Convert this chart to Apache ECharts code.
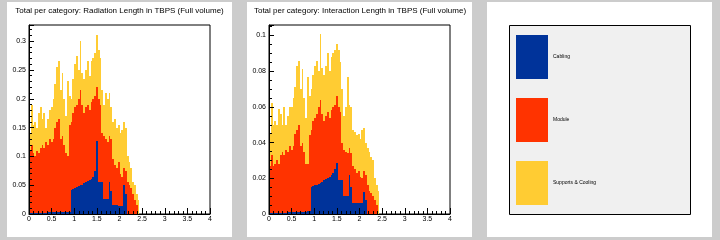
<!DOCTYPE html>
<html>
<head>
<meta charset="utf-8">
<script src="https://cdn.jsdelivr.net/npm/echarts@6/dist/echarts.min.js"></script>
<style>
   html, body { margin: 0; padding: 0; background: #cccccc; }
   #main { width: 720px; height: 240px; }
</style>
</head>
<body>
<div id="main"></div>
<script>

// category names as in the legend
const categories = ["Cabling", "Module", "Supports & Cooling"];
const catColors  = ["#00339a", "#ff3300", "#ffcc33"];

// histogram bins (left edge), width 0.04
const binW = 0.04;
const binStart = [
   0.00, 0.04, 0.08, 0.12, 0.16, 0.20, 0.24, 0.28, 0.32, 0.36,
   0.40, 0.44, 0.48, 0.52, 0.56, 0.60, 0.64, 0.68, 0.72, 0.76,
   0.80, 0.84, 0.88, 0.92, 0.96, 1.00, 1.04, 1.08, 1.12, 1.16,
   1.20, 1.24, 1.28, 1.32, 1.36, 1.40, 1.44, 1.48, 1.52, 1.56,
   1.60, 1.64, 1.68, 1.72, 1.76, 1.80, 1.84, 1.88, 1.92, 1.96,
   2.00, 2.04, 2.08, 2.12, 2.16, 2.20, 2.24, 2.28, 2.32, 2.36,
   2.40
];

// Radiation length: stacked heights (top of each layer)
const radCablingTop = [
   0.001, 0.001, 0.001, 0.001, 0.001, 0.001, 0.001, 0.001, 0.001, 0.001,
   0.003, 0.003, 0.003, 0.003, 0.003, 0.003, 0.003, 0.003, 0.003, 0.003,
   0.003, 0.004, 0.004, 0.042, 0.044, 0.045, 0.046, 0.048, 0.050, 0.051,
   0.053, 0.055, 0.057, 0.059, 0.061, 0.065, 0.075, 0.127, 0.056, 0.056,
   0.055, 0.026, 0.026, 0.026, 0.056, 0.040, 0.016, 0.016, 0.015, 0.014,
   0.014, 0.014, 0.050, 0.035, 0, 0, 0, 0, 0, 0,
   0
];
const radModuleTop = [
   0.110, 0.120, 0.105, 0.100, 0.110, 0.105, 0.115, 0.120, 0.115, 0.125,
   0.120, 0.130, 0.125, 0.130, 0.150, 0.160, 0.165, 0.130, 0.135, 0.120,
   0.105, 0.100, 0.155, 0.160, 0.175, 0.185, 0.190, 0.200, 0.215, 0.190,
   0.175, 0.185, 0.190, 0.180, 0.195, 0.200, 0.205, 0.220, 0.200, 0.190,
   0.140, 0.135, 0.130, 0.125, 0.135, 0.130, 0.095, 0.085, 0.080, 0.090,
   0.070, 0.065, 0.080, 0.075, 0.055, 0.050, 0.045, 0.035, 0.025, 0.015,
   0
];
const radTotalTop = [
   0.140, 0.190, 0.155, 0.160, 0.150, 0.175, 0.185, 0.165, 0.175, 0.150,
   0.165, 0.180, 0.185, 0.200, 0.225, 0.255, 0.265, 0.215, 0.245, 0.200,
   0.170, 0.230, 0.205, 0.200, 0.235, 0.260, 0.275, 0.250, 0.300, 0.245,
   0.235, 0.250, 0.265, 0.240, 0.265, 0.270, 0.280, 0.310, 0.285, 0.270,
   0.215, 0.190, 0.210, 0.200, 0.210, 0.185, 0.160, 0.165, 0.150, 0.155,
   0.140, 0.145, 0.160, 0.150, 0.100, 0.090, 0.080, 0.055, 0.050, 0.035,
   0.025
];

// Interaction length: stacked heights
const intCablingTop = [
   0.0005, 0.0005, 0.0005, 0.0005, 0.0005, 0.0005, 0.0005, 0.0005, 0.0005, 0.0005,
   0.001, 0.001, 0.001, 0.001, 0.001, 0.001, 0.001, 0.001, 0.001, 0.001,
   0.001, 0.0015, 0.0015, 0.015, 0.0155, 0.016, 0.0165, 0.017, 0.0175, 0.018,
   0.019, 0.0195, 0.020, 0.021, 0.022, 0.023, 0.025, 0.0285, 0.019, 0.019,
   0.019, 0.010, 0.010, 0.010, 0.022, 0.015, 0.006, 0.006, 0.006, 0.006,
   0.006, 0.006, 0.0125, 0.008, 0, 0, 0, 0, 0, 0,
   0
];
const intModuleTop = [
   0.027, 0.033, 0.027, 0.028, 0.030, 0.028, 0.033, 0.035, 0.033, 0.036,
   0.035, 0.038, 0.036, 0.038, 0.045, 0.047, 0.050, 0.038, 0.040, 0.035,
   0.028, 0.028, 0.044, 0.047, 0.052, 0.054, 0.056, 0.060, 0.064, 0.056,
   0.052, 0.055, 0.057, 0.054, 0.058, 0.060, 0.061, 0.066, 0.060, 0.057,
   0.040, 0.036, 0.035, 0.034, 0.037, 0.034, 0.027, 0.025, 0.023, 0.024,
   0.021, 0.020, 0.024, 0.022, 0.016, 0.013, 0.012, 0.010, 0.008, 0.005,
   0
];
const intTotalTop = [
   0.045, 0.062, 0.050, 0.052, 0.050, 0.059, 0.056, 0.050, 0.060, 0.050,
   0.055, 0.060, 0.060, 0.065, 0.071, 0.083, 0.086, 0.070, 0.081, 0.065,
   0.054, 0.077, 0.066, 0.070, 0.078, 0.083, 0.086, 0.080, 0.101, 0.082,
   0.078, 0.083, 0.090, 0.080, 0.088, 0.090, 0.092, 0.095, 0.092, 0.085,
   0.070, 0.055, 0.060, 0.077, 0.061, 0.060, 0.047, 0.046, 0.044, 0.045,
   0.042, 0.047, 0.048, 0.040, 0.037, 0.035, 0.032, 0.030, 0.020, 0.016,
   0.013
];

const titles = [
   "Total per category: Radiation Length in TBPS (Full volume)",
   "Total per category: Interaction Length in TBPS (Full volume)"
];

const font = "Liberation Sans";


function pairs(vals)
{
   var out = [];
   for (var i=0; i<binStart.length; i++) out.push([binStart[i], vals[i]]);
   return out;
}

function binRect(color)
{
   return function(params, api)
   {
      var x0 = api.value(0);
      var v  = api.value(1);
      if (!v) return null;
      var p0 = api.coord([x0, 0]);
      var p1 = api.coord([x0 + binW, v]);
      var l = Math.round(p0[0]), r = Math.round(p1[0]);
      var t = Math.round(p1[1]), b = Math.round(p0[1]);
      return { type: 'rect', shape: { x: l, y: t, width: r - l, height: b - t },
               style: { fill: color } };
   };
}

function xAxisOpt(gi)
{
   return {
      type: 'value', gridIndex: gi, min: 0, max: 4, interval: 0.5, z: 5,
      axisLine: { lineStyle: { color: '#000', width: 1 } },
      axisTick: { inside: true, length: 6, lineStyle: { color: '#000' } },
      minorTick: { show: true, splitNumber: 5, length: 3, lineStyle: { color: '#000' } },
      splitLine: { show: false },
      axisLabel: { fontFamily: font, fontSize: 7, color: '#000', margin: 2 }
   };
}

function yAxisOpt(gi, max, interval, minorSplit)
{
   return {
      type: 'value', gridIndex: gi, min: 0, max: max, interval: interval, z: 5,
      axisLine: { show: true, lineStyle: { color: '#000', width: 1 } },
      axisTick: { show: true, inside: true, length: 5, lineStyle: { color: '#000' } },
      minorTick: { show: true, splitNumber: minorSplit, length: 3, lineStyle: { color: '#000' } },
      splitLine: { show: false },
      axisLabel: { fontFamily: font, fontSize: 7, color: '#000', margin: 3, showMaxLabel: false }
   };
}

function histSeries(gi, name, color, vals, z)
{
   return {
      type: 'custom', name: name, xAxisIndex: gi, yAxisIndex: gi, z: z,
      itemStyle: { color: color },
      renderItem: binRect(color),
      data: pairs(vals)
   };
}

function titleText(x, txt)
{
   return { type: 'text', z: 10, x: x, y: 11,
            style: { text: txt, fontFamily: font, fontSize: 8, fill: '#000',
                     align: 'center', verticalAlign: 'middle' } };
}

const chart = echarts.init(document.getElementById('main'), null, { renderer: 'canvas' });

chart.setOption(
{
   animation: false,
   backgroundColor: '#cccccc',
   graphic: [
      { type: 'rect', z: -10, shape: { x: 7, y: 2, width: 225, height: 235 }, style: { fill: '#fff' } },
      { type: 'rect', z: -10, shape: { x: 247, y: 2, width: 225, height: 235 }, style: { fill: '#fff' } },
      { type: 'rect', z: -10, shape: { x: 487, y: 2, width: 225, height: 235 }, style: { fill: '#fff' } },
      { type: 'rect', z: -9, shape: { x: 509.5, y: 25.5, width: 181, height: 189 },
        style: { fill: '#f0f0f0', stroke: '#000', lineWidth: 1 } },
      titleText(119.5, titles[0]),
      titleText(360, titles[1])
   ],
   legend: {
      data: categories, orient: 'vertical', left: 516, top: 35, padding: 0,
      itemWidth: 32, itemHeight: 44, itemGap: 19, icon: 'rect',
      textStyle: { fontFamily: font, fontSize: 5, color: '#000', padding: [0, 0, 0, 0] },
      selectedMode: false
   },
   grid: [
      { left: 29, top: 25, width: 181, height: 189, show: true, borderColor: '#000', borderWidth: 1, backgroundColor: '#fff' },
      { left: 269, top: 25, width: 181, height: 189, show: true, borderColor: '#000', borderWidth: 1, backgroundColor: '#fff' }
   ],
   xAxis: [ xAxisOpt(0), xAxisOpt(1) ],
   yAxis: [ yAxisOpt(0, 0.328, 0.05, 5), yAxisOpt(1, 0.1059, 0.02, 4) ],
   series: [
      histSeries(0, categories[2], catColors[2], radTotalTop, 2),
      histSeries(0, categories[1], catColors[1], radModuleTop, 3),
      histSeries(0, categories[0], catColors[0], radCablingTop, 4),
      histSeries(1, categories[2], catColors[2], intTotalTop, 2),
      histSeries(1, categories[1], catColors[1], intModuleTop, 3),
      histSeries(1, categories[0], catColors[0], intCablingTop, 4)
   ]
});

</script>
</body>
</html>
